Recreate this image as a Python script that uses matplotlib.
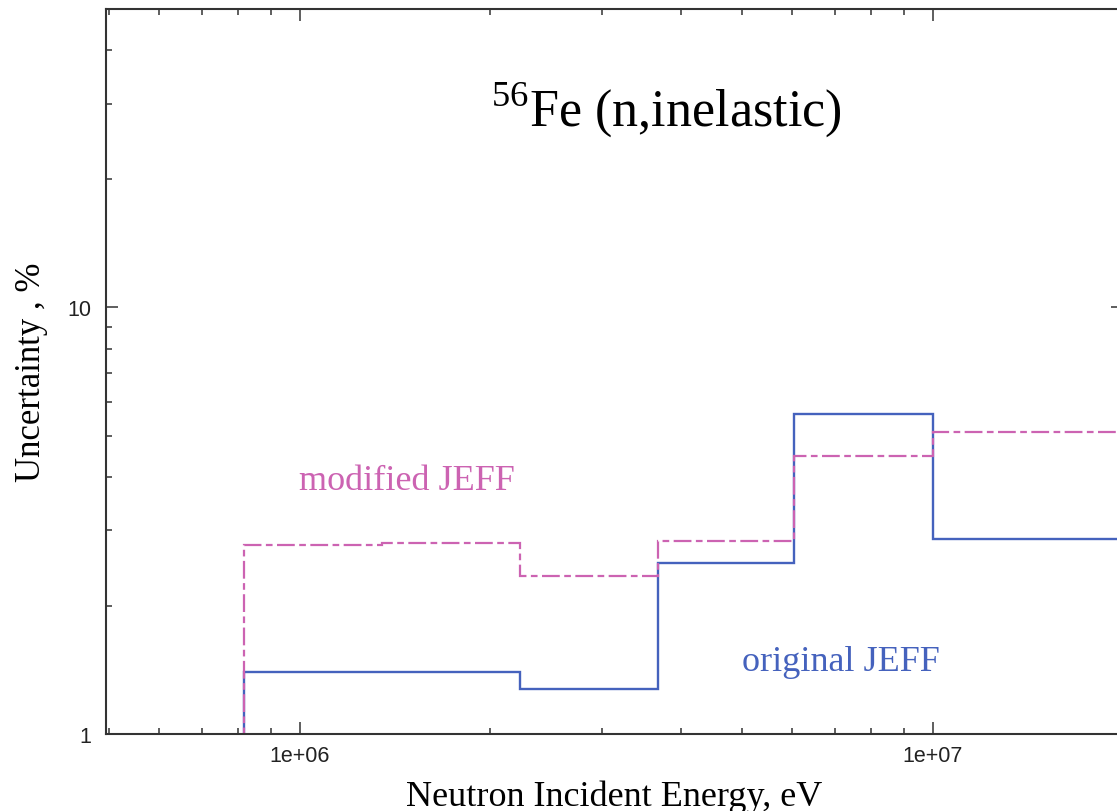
import numpy as np
import matplotlib
matplotlib.use("Agg")
import matplotlib.pyplot as plt
import matplotlib.ticker as ticker

# group boundaries (eV) and uncertainties (%)
edges = [8.15e5, 1.35e6, 2.23e6, 3.68e6, 6.05e6, 1.0e7, 2.0e7]
original_jeff = [1.40, 1.40, 1.275, 2.51, 5.61, 2.87]
modified_jeff = [2.78, 2.81, 2.35, 2.84, 4.49, 5.09]

blue = "#4562bd"
magenta = "#cc63b2"
axcol = "#333333"

plt.rcParams['mathtext.fontset'] = 'custom'
plt.rcParams['mathtext.rm'] = 'Liberation Serif'

fig = plt.figure(figsize=(11.17, 8.12), dpi=100)
ax = fig.add_axes([106/1117, 77/812, 1017/1117, 725/812])

ax.stairs(original_jeff, edges, baseline=0.5, color=blue, lw=1.7)
ax.stairs(modified_jeff, edges, baseline=0.5, color=magenta, lw=1.6,
          linestyle=(0, (8, 2, 3, 2)))

ax.set_xscale("log")
ax.set_yscale("log")
ax.set_xlim(4.94e5, 2e7)
ax.set_ylim(1, 50)

ax.xaxis.set_major_formatter(ticker.FuncFormatter(lambda v, p: f"{v:.0e}"))
ax.yaxis.set_major_formatter(ticker.FuncFormatter(lambda v, p: f"{v:g}"))
ax.xaxis.set_minor_formatter(ticker.NullFormatter())
ax.yaxis.set_minor_formatter(ticker.NullFormatter())

ax.tick_params(which="both", direction="in", top=True, right=True,
               color=axcol, width=1.1, labelcolor="#222222")
ax.tick_params(which="major", length=8.6)
ax.tick_params(which="minor", length=4.3)
ax.tick_params(axis="y", pad=10.5)
ax.tick_params(axis="x", pad=8)
for lab in ax.get_xticklabels() + ax.get_yticklabels():
    lab.set_fontfamily("Liberation Sans")
    lab.set_fontsize(15.5)
for s in ax.spines.values():
    s.set_color(axcol)
    s.set_linewidth(1.5)

ax.set_xlabel("Neutron Incident Energy, eV", family="Liberation Serif", fontsize=26)
ax.xaxis.set_label_coords(0.5, -0.086)
ax.xaxis.label.set_va("center")
ax.set_ylabel("Uncertainty , %", family="Liberation Serif", fontsize=25)
ax.yaxis.set_label_coords(-0.073, 0.5)
ax.yaxis.label.set_va("center")

ax.text(0.551, 0.862, r"$^{\mathrm{56}}$Fe (n,inelastic)", transform=ax.transAxes,
        ha="center", va="center", fontsize=37.5, family="Liberation Serif")
ax.text(0.296, 0.35, "modified JEFF", transform=ax.transAxes, ha="center",
        va="center", fontsize=26, family="Liberation Serif", color=magenta)
ax.text(0.7227, 0.1, "original JEFF", transform=ax.transAxes, ha="center",
        va="center", fontsize=26, family="Liberation Serif", color=blue)

fig.savefig("out.png", dpi=100)
